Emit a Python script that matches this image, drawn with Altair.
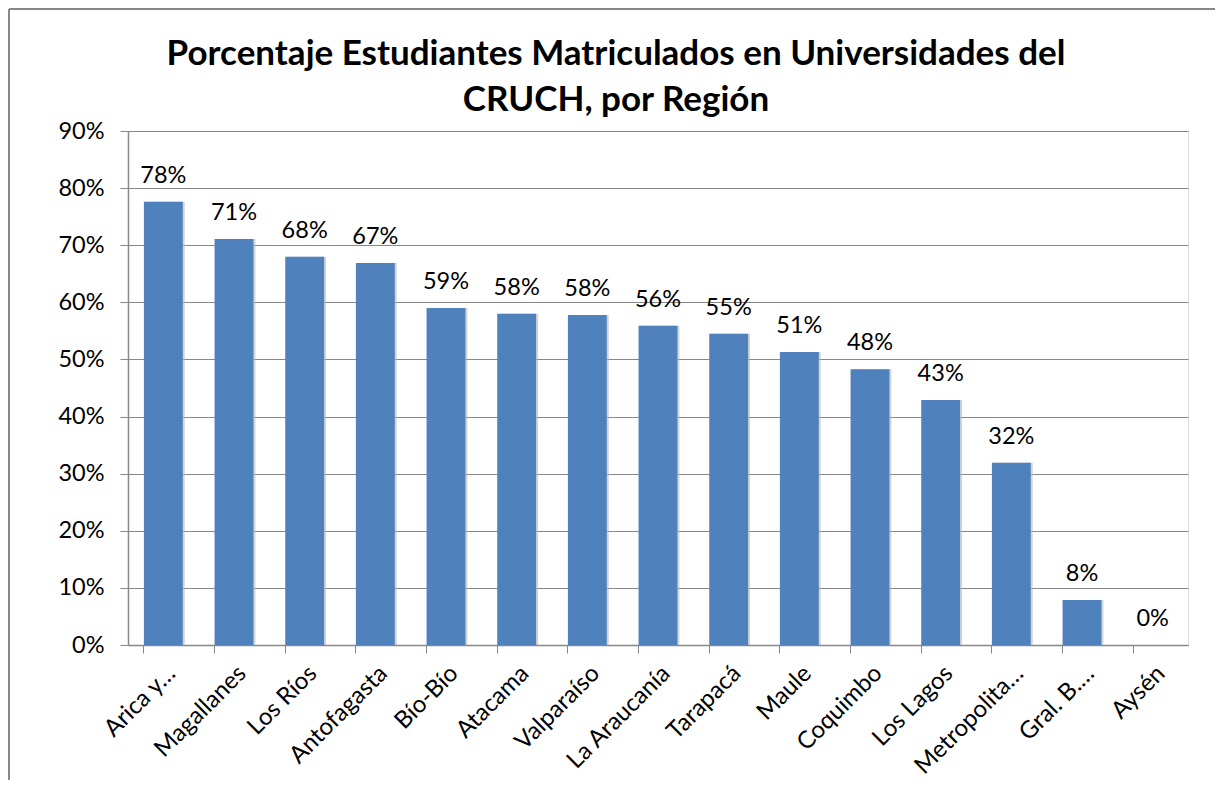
import altair as alt
import pandas as pd

regions = ["Arica y…", "Magallanes", "Los Ríos", "Antofagasta", "Bío-Bío", "Atacama",
           "Valparaíso", "La Araucanía", "Tarapacá", "Maule", "Coquimbo", "Los Lagos",
           "Metropolita…", "Gral. B.…", "Aysén"]
values = [0.776, 0.711, 0.680, 0.669, 0.590, 0.580, 0.578, 0.559, 0.545, 0.513,
          0.483, 0.429, 0.319, 0.079, 0.0]
y_ticks = [0, 0.1, 0.2, 0.3, 0.4, 0.5, 0.6, 0.7, 0.8, 0.9]
title_lines = ["Porcentaje Estudiantes Matriculados en Universidades del", "CRUCH, por Región"]

df = pd.DataFrame({"region": regions, "value": values})

FONT = "Lato"
GRAY = "#888888"

x_enc = alt.X("region:N", sort=regions, title=None,
              scale=alt.Scale(paddingInner=0.45, paddingOuter=0.225),
              axis=alt.Axis(labelAngle=-45, labelAlign="right", labelBaseline="top",
                            labelFontSize=24, labelFont=FONT, labelColor="black",
                            bandPosition=0, tickSize=8, tickColor=GRAY, domainColor=GRAY,
                            labelPadding=8, labelOffset=0, domainWidth=1.5))
y_enc = alt.Y("value:Q", title=None,
              scale=alt.Scale(domain=[0, 0.9], nice=False),
              axis=alt.Axis(values=y_ticks, format=".0%", labelFontSize=23.5, labelFont=FONT,
                            labelColor="black", tickSize=8, tickColor=GRAY, domainColor=GRAY,
                            gridColor=GRAY, grid=True, labelPadding=16, domainWidth=1.5))

base = alt.Chart(df)

shadow = base.mark_bar(color="#b8b8b8", opacity=0.6, xOffset=2).encode(x=x_enc, y=y_enc)
bars = base.mark_bar(color="#4F81BD").encode(x=x_enc, y=y_enc)
labels = base.mark_text(baseline="alphabetic", dy=-19, fontSize=23.5, font=FONT,
                        color="black").encode(
    x=x_enc, y=y_enc, text=alt.Text("value:Q", format=".0%"))

border_top = alt.Chart(df).mark_rule(color=GRAY, strokeWidth=1.5).encode(
    x=alt.value(-119), x2=alt.value(1100), y=alt.value(-122))
border_left = alt.Chart(df).mark_rule(color=GRAY, strokeWidth=1.5).encode(
    x=alt.value(-119), y=alt.value(-122), y2=alt.value(660))

chart = alt.layer(shadow, bars, labels, border_top, border_left).properties(
    width=1060, height=514,
    autosize=alt.AutoSizeParams(type="none"),
    padding={"left": 120, "top": 123, "right": 27, "bottom": 135},
    title=alt.TitleParams(text=title_lines, fontSize=35, font=FONT, fontWeight="bold",
                          color="black", anchor="middle", offset=-110, lineHeight=46, dx=-42),
).configure_view(stroke=None).configure(background="white")

chart.save("out.html", embed_options={"renderer": "svg", "actions": False})
